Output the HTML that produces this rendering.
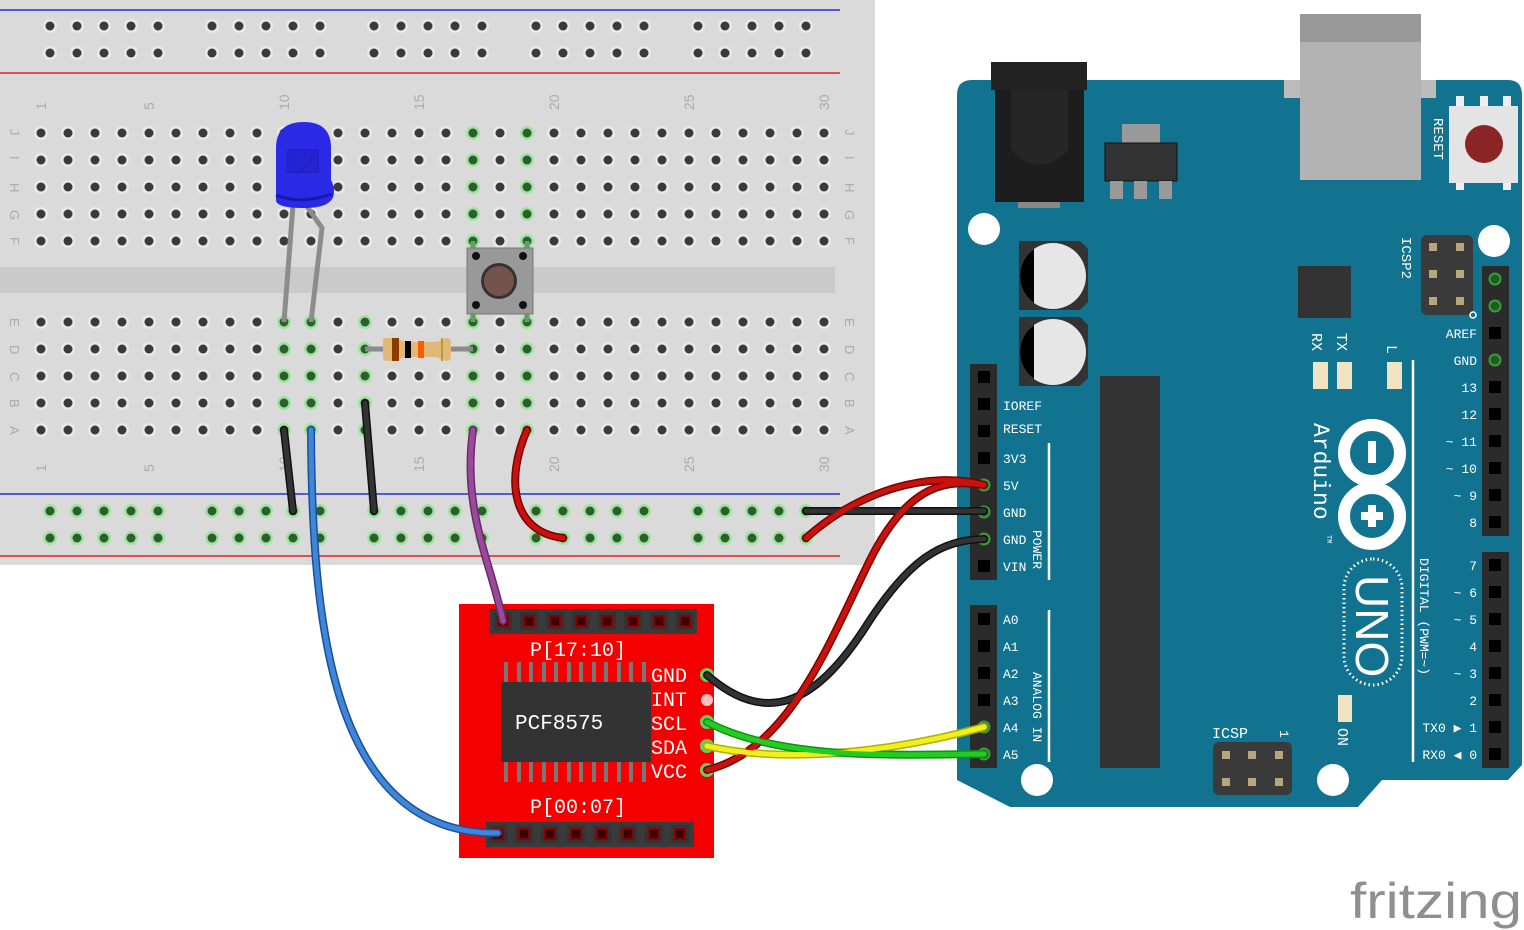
<!DOCTYPE html>
<html><head><meta charset="utf-8"><style>
html,body{margin:0;padding:0;background:#fff;}
svg{display:block;}
.m{font-family:"Liberation Mono","DejaVu Sans Mono",monospace;fill:#fff;}
.bl{font-family:"Liberation Sans",sans-serif;fill:#aaa;font-size:14px;}
</style></head><body>
<svg width="1524" height="930" viewBox="0 0 1524 930" xmlns="http://www.w3.org/2000/svg">
<defs>
<pattern id="hole" x="27.5" y="119.5" width="27" height="27" patternUnits="userSpaceOnUse">
<circle cx="13.5" cy="13.5" r="7" fill="#e9e9e9"/><circle cx="13.5" cy="13.5" r="4.5" fill="#3a3a3a"/></pattern>
<pattern id="rail" x="36.5" y="12.5" width="162" height="27" patternUnits="userSpaceOnUse">
<g fill="#e9e9e9"><circle cx="13.5" cy="13.5" r="7"/><circle cx="40.5" cy="13.5" r="7"/><circle cx="67.5" cy="13.5" r="7"/><circle cx="94.5" cy="13.5" r="7"/><circle cx="121.5" cy="13.5" r="7"/></g>
<g fill="#3a3a3a"><circle cx="13.5" cy="13.5" r="4.5"/><circle cx="40.5" cy="13.5" r="4.5"/><circle cx="67.5" cy="13.5" r="4.5"/><circle cx="94.5" cy="13.5" r="4.5"/><circle cx="121.5" cy="13.5" r="4.5"/></g></pattern>
<pattern id="railg" x="36.5" y="497.5" width="162" height="27" patternUnits="userSpaceOnUse">
<g fill="#9ee49e"><circle cx="13.5" cy="13.5" r="7"/><circle cx="40.5" cy="13.5" r="7"/><circle cx="67.5" cy="13.5" r="7"/><circle cx="94.5" cy="13.5" r="7"/><circle cx="121.5" cy="13.5" r="7"/></g>
<g fill="#2e5e2e"><circle cx="13.5" cy="13.5" r="4.5"/><circle cx="40.5" cy="13.5" r="4.5"/><circle cx="67.5" cy="13.5" r="4.5"/><circle cx="94.5" cy="13.5" r="4.5"/><circle cx="121.5" cy="13.5" r="4.5"/></g></pattern>
<g id="gh"><circle r="7" fill="#9ee49e"/><circle r="4.5" fill="#2e5e2e"/></g>
<g id="pin"><rect x="-9" y="-9" width="18" height="18" fill="#2b2b2b"/><rect x="-6" y="-6" width="12" height="12" fill="#000"/></g>
<g id="gpin"><rect x="-9" y="-9" width="18" height="18" fill="#2b2b2b"/><circle r="6.5" fill="#3c9c3c"/><circle r="4.5" fill="#1d5d1d"/></g>
<g id="rpin"><rect x="-9" y="-9" width="18" height="18" fill="#333"/><rect x="-6" y="-6" width="12" height="12" fill="#8a0000"/><rect x="-4" y="-4" width="8" height="8" fill="#3a0000"/></g>
<g id="pad"><rect x="-4" y="-4" width="8" height="8" fill="#b5a77a"/></g>
</defs>

<rect x="0" y="0" width="875" height="565" fill="#dadada"/>
<rect x="0" y="267" width="835" height="26" fill="#cacaca"/>
<line x1="0" y1="10" x2="840" y2="10" stroke="#2233cc" stroke-width="1.5"/>
<line x1="0" y1="73" x2="840" y2="73" stroke="#dd2222" stroke-width="1.5"/>
<line x1="0" y1="494" x2="840" y2="494" stroke="#2233cc" stroke-width="1.5"/>
<line x1="0" y1="556" x2="840" y2="556" stroke="#dd2222" stroke-width="1.5"/>
<rect x="36.5" y="12.5" width="810" height="54" fill="url(#rail)"/>
<rect x="36.5" y="497.5" width="810" height="54" fill="url(#railg)"/>
<rect x="27.5" y="119.5" width="810" height="135" fill="url(#hole)"/>
<rect x="27.5" y="308.5" width="810" height="135" fill="url(#hole)"/>
<use href="#gh" x="284" y="322"/><use href="#gh" x="284" y="349"/><use href="#gh" x="284" y="376"/><use href="#gh" x="284" y="403"/><use href="#gh" x="284" y="430"/>
<use href="#gh" x="311" y="322"/><use href="#gh" x="311" y="349"/><use href="#gh" x="311" y="376"/><use href="#gh" x="311" y="403"/><use href="#gh" x="311" y="430"/>
<use href="#gh" x="365" y="322"/><use href="#gh" x="365" y="349"/><use href="#gh" x="365" y="376"/><use href="#gh" x="365" y="403"/><use href="#gh" x="365" y="430"/>
<use href="#gh" x="473" y="133"/><use href="#gh" x="473" y="160"/><use href="#gh" x="473" y="187"/><use href="#gh" x="473" y="214"/><use href="#gh" x="473" y="241"/>
<use href="#gh" x="473" y="322"/><use href="#gh" x="473" y="349"/><use href="#gh" x="473" y="376"/><use href="#gh" x="473" y="403"/><use href="#gh" x="473" y="430"/>
<use href="#gh" x="527" y="133"/><use href="#gh" x="527" y="160"/><use href="#gh" x="527" y="187"/><use href="#gh" x="527" y="214"/><use href="#gh" x="527" y="241"/>
<use href="#gh" x="527" y="322"/><use href="#gh" x="527" y="349"/><use href="#gh" x="527" y="376"/><use href="#gh" x="527" y="403"/><use href="#gh" x="527" y="430"/>
<g class="bl">
<text transform="translate(46,110) rotate(-90)">1</text><text transform="translate(154,110) rotate(-90)">5</text><text transform="translate(289,110) rotate(-90)">10</text><text transform="translate(424,110) rotate(-90)">15</text><text transform="translate(559,110) rotate(-90)">20</text><text transform="translate(694,110) rotate(-90)">25</text><text transform="translate(829,110) rotate(-90)">30</text>
<text transform="translate(46,472) rotate(-90)">1</text><text transform="translate(154,472) rotate(-90)">5</text><text transform="translate(289,472) rotate(-90)">10</text><text transform="translate(424,472) rotate(-90)">15</text><text transform="translate(559,472) rotate(-90)">20</text><text transform="translate(694,472) rotate(-90)">25</text><text transform="translate(829,472) rotate(-90)">30</text>
<g font-size="13">
<text transform="translate(10,129) rotate(90)">J</text><text transform="translate(10,156) rotate(90)">I</text><text transform="translate(10,183) rotate(90)">H</text><text transform="translate(10,210) rotate(90)">G</text><text transform="translate(10,237) rotate(90)">F</text>
<text transform="translate(10,318) rotate(90)">E</text><text transform="translate(10,345) rotate(90)">D</text><text transform="translate(10,372) rotate(90)">C</text><text transform="translate(10,399) rotate(90)">B</text><text transform="translate(10,426) rotate(90)">A</text>
<text transform="translate(845,129) rotate(90)">J</text><text transform="translate(845,156) rotate(90)">I</text><text transform="translate(845,183) rotate(90)">H</text><text transform="translate(845,210) rotate(90)">G</text><text transform="translate(845,237) rotate(90)">F</text>
<text transform="translate(845,318) rotate(90)">E</text><text transform="translate(845,345) rotate(90)">D</text><text transform="translate(845,372) rotate(90)">C</text><text transform="translate(845,399) rotate(90)">B</text><text transform="translate(845,426) rotate(90)">A</text>
</g></g>

<path d="M293,205 L284,322" stroke="#8c8c8c" stroke-width="5" fill="none"/>
<path d="M306,205 L322,228 L311,322" stroke="#8c8c8c" stroke-width="5" fill="none"/>
<path d="M276,200 L276,148 Q276,122 304,122 Q331,122 331,148 L331,180 Q334,185 334,192 Q334,208 304,208 Q276,208 276,200Z" fill="#2a2ae6"/>
<path d="M276,195 Q300,205 332,194" stroke="#1818b0" stroke-width="3" fill="none"/>
<path d="M288,150 L318,150 L318,172 L288,172Z M300,172 L318,150" stroke="#1e1ec0" stroke-width="2" fill="#2222cc" opacity="0.7"/>
<path d="M473,241 L473,322 M527,241 L527,322" stroke="#6a9a6a" stroke-width="5"/>
<rect x="467" y="248" width="66" height="66" fill="#999" stroke="#777"/>
<circle cx="476" cy="256" r="4" fill="#111"/><circle cx="523" cy="256" r="4" fill="#111"/><circle cx="476" cy="305" r="4" fill="#111"/><circle cx="523" cy="305" r="4" fill="#111"/>
<circle cx="499" cy="281" r="18" fill="#333"/><circle cx="499" cy="281" r="15" fill="#74544a"/>
<line x1="365" y1="349" x2="473" y2="349" stroke="#8c8c8c" stroke-width="5"/>
<path d="M385,338 Q383,338 383,342 L383,357 Q383,361 387,361 L396,361 Q402,357 412,357 L432,357 Q440,357 446,361 Q451,361 451,357 L451,342 Q451,338 446,338 Q440,342 432,342 L412,342 Q402,342 396,338Z" fill="#e0b878"/>
<rect x="392" y="338" width="7" height="23" fill="#8b3a00"/><rect x="405" y="341" width="6" height="17" fill="#000"/><rect x="418" y="341" width="6" height="17" fill="#ff5a00"/><rect x="441" y="338" width="2" height="23" fill="#b0a030"/>

<path d="M957,95 Q957,80 972,80 L1508,80 Q1522,80 1522,95 L1522,765 L1508,780 L1382,780 L1358,807 L1010,807 L957,780Z" fill="#127390"/>
<rect x="1018" y="198" width="42" height="10" fill="#888"/>
<rect x="995" y="82" width="89" height="120" fill="#1d1d1d"/>
<rect x="991" y="62" width="96" height="28" fill="#222"/>
<path d="M1011,90 L1011,150 Q1040,180 1068,150 L1068,90" fill="#262626"/>
<rect x="1122" y="124" width="38" height="20" fill="#999"/>
<rect x="1105" y="143" width="72" height="38" fill="#333" stroke="#111"/>
<rect x="1110" y="181" width="13" height="18" fill="#999"/><rect x="1134" y="181" width="13" height="18" fill="#999"/><rect x="1159" y="181" width="13" height="18" fill="#999"/>
<rect x="1284" y="80" width="152" height="18" fill="#bbb"/>
<rect x="1300" y="14" width="121" height="166" fill="#b3b3b3"/>
<rect x="1300" y="14" width="121" height="28" fill="#999"/>
<rect x="1456" y="96" width="8" height="14" fill="#eee"/><rect x="1480" y="96" width="8" height="14" fill="#eee"/><rect x="1503" y="96" width="8" height="14" fill="#eee"/>
<rect x="1456" y="176" width="8" height="14" fill="#eee"/><rect x="1503" y="176" width="8" height="14" fill="#eee"/>
<rect x="1449" y="106" width="69" height="77" fill="#e4e4e4"/>
<circle cx="1484" cy="144" r="19" fill="#8b2424"/>
<text class="m" font-size="14" transform="translate(1434,118) rotate(90)">RESET</text>
<circle cx="984" cy="229" r="16" fill="#fff"/><circle cx="1494" cy="241" r="16" fill="#fff"/><circle cx="1037" cy="780" r="16" fill="#fff"/><circle cx="1333" cy="780" r="16" fill="#fff"/>
<path d="M1019,241 L1080,241 L1088,249 L1088,302 L1080,310 L1019,310Z" fill="#333"/>
<circle cx="1053" cy="276" r="33" fill="#e6e6e6"/><path d="M1034,249 A33,33 0 0 0 1034,303Z" fill="#000"/>
<path d="M1019,317 L1080,317 L1088,325 L1088,378 L1080,386 L1019,386Z" fill="#333"/>
<circle cx="1053" cy="352" r="33" fill="#e6e6e6"/><path d="M1034,325 A33,33 0 0 0 1034,379Z" fill="#000"/>
<rect x="1298" y="266" width="53" height="52" fill="#333"/>
<rect x="1100" y="376" width="60" height="392" fill="#333"/>
<rect x="1421" y="235" width="52" height="80" rx="6" fill="#3a3a3a"/>
<use href="#pad" x="1433" y="247"/><use href="#pad" x="1460" y="247"/><use href="#pad" x="1433" y="274"/><use href="#pad" x="1460" y="274"/><use href="#pad" x="1433" y="301"/><use href="#pad" x="1460" y="301"/>
<circle cx="1473" cy="315" r="3" fill="none" stroke="#fff" stroke-width="1.5"/>
<text class="m" font-size="14" transform="translate(1402,237) rotate(90)">ICSP2</text>
<rect x="1313" y="362" width="15" height="27" fill="#efe3c0"/><rect x="1337" y="362" width="15" height="27" fill="#efe3c0"/><rect x="1387" y="362" width="15" height="27" fill="#efe3c0"/>
<rect x="1338" y="695" width="14" height="27" fill="#efe3c0"/>
<text class="m" font-size="15" transform="translate(1312,333) rotate(90)">RX</text>
<text class="m" font-size="15" transform="translate(1337,333) rotate(90)">TX</text>
<text class="m" font-size="15" transform="translate(1387,345) rotate(90)">L</text>
<text class="m" font-size="15" transform="translate(1338,728) rotate(90)">ON</text>
<g stroke="#fff" stroke-width="2.5"><line x1="1049" y1="443" x2="1049" y2="580"/><line x1="1049" y1="610" x2="1049" y2="762"/><line x1="1413" y1="360" x2="1413" y2="762"/></g>
<rect x="970" y="364" width="27" height="216" fill="#2b2b2b"/><rect x="970" y="605" width="27" height="163" fill="#2b2b2b"/>
<use href="#pin" x="984" y="377"/><use href="#pin" x="984" y="404"/><use href="#pin" x="984" y="431"/><use href="#pin" x="984" y="458"/><use href="#gpin" x="984" y="485"/><use href="#gpin" x="984" y="512"/><use href="#gpin" x="984" y="539"/><use href="#pin" x="984" y="566"/>
<use href="#pin" x="984" y="619"/><use href="#pin" x="984" y="646"/><use href="#pin" x="984" y="673"/><use href="#pin" x="984" y="700"/><use href="#gpin" x="984" y="727"/><use href="#gpin" x="984" y="754"/>
<g class="m" font-size="13">
<text x="1003" y="410">IOREF</text><text x="1003" y="433">RESET</text><text x="1003" y="463">3V3</text><text x="1003" y="490">5V</text><text x="1003" y="517">GND</text><text x="1003" y="544">GND</text><text x="1003" y="571">VIN</text>
<text x="1003" y="624">A0</text><text x="1003" y="651">A1</text><text x="1003" y="678">A2</text><text x="1003" y="705">A3</text><text x="1003" y="732">A4</text><text x="1003" y="759">A5</text>
<text transform="translate(1033,530) rotate(90)">POWER</text>
<text transform="translate(1033,672) rotate(90)">ANALOG IN</text>
</g>
<rect x="1482" y="266" width="27" height="270" fill="#2b2b2b"/><rect x="1482" y="552" width="27" height="216" fill="#2b2b2b"/>
<use href="#gpin" x="1495" y="279"/><use href="#gpin" x="1495" y="306"/><use href="#pin" x="1495" y="333"/><use href="#gpin" x="1495" y="360"/><use href="#pin" x="1495" y="387"/><use href="#pin" x="1495" y="414"/><use href="#pin" x="1495" y="441"/><use href="#pin" x="1495" y="468"/><use href="#pin" x="1495" y="495"/><use href="#pin" x="1495" y="522"/>
<use href="#pin" x="1495" y="565"/><use href="#pin" x="1495" y="592"/><use href="#pin" x="1495" y="619"/><use href="#pin" x="1495" y="646"/><use href="#pin" x="1495" y="673"/><use href="#pin" x="1495" y="700"/><use href="#pin" x="1495" y="727"/><use href="#pin" x="1495" y="754"/>
<g class="m" font-size="13" text-anchor="end">
<text x="1477" y="338">AREF</text><text x="1477" y="365">GND</text><text x="1477" y="392">13</text><text x="1477" y="419">12</text><text x="1477" y="446">~ 11</text><text x="1477" y="473">~ 10</text><text x="1477" y="500">~ 9</text><text x="1477" y="527">8</text>
<text x="1477" y="570">7</text><text x="1477" y="597">~ 6</text><text x="1477" y="624">~ 5</text><text x="1477" y="651">4</text><text x="1477" y="678">~ 3</text><text x="1477" y="705">2</text><text x="1477" y="732">TX0 ▶ 1</text><text x="1477" y="759">RX0 ◀ 0</text>
</g>
<text class="m" font-size="13" transform="translate(1420,558) rotate(90)">DIGITAL (PWM=~)</text>
<g stroke="#fff" stroke-width="12" fill="none"><circle cx="1372" cy="453" r="28"/><circle cx="1372" cy="516" r="28"/></g>
<rect x="1368" y="441" width="8" height="22" fill="#fff"/>
<rect x="1361" y="512" width="22" height="8" fill="#fff"/><rect x="1368" y="505" width="8" height="22" fill="#fff"/>
<text class="m" font-size="23" transform="translate(1314,423) rotate(90)">Arduino</text>
<text class="m" font-size="7" transform="translate(1327,535) rotate(90)">TM</text>
<rect x="1344" y="559" width="58" height="126" rx="29" fill="none" stroke="#fff" stroke-width="3" stroke-dasharray="1.5 3"/>
<text font-family="Liberation Sans,sans-serif" font-size="46" fill="#fff" transform="translate(1356,575) rotate(90)">UNO</text>
<rect x="1213" y="742" width="79" height="53" rx="6" fill="#3a3a3a"/>
<use href="#pad" x="1226" y="755"/><use href="#pad" x="1252" y="755"/><use href="#pad" x="1279" y="755"/><use href="#pad" x="1226" y="782"/><use href="#pad" x="1252" y="782"/><use href="#pad" x="1279" y="782"/>
<text class="m" font-size="15" x="1212" y="738">ICSP</text>
<text class="m" font-size="13" transform="translate(1280,730) rotate(90)">1</text>

<rect x="459" y="604" width="255" height="254" fill="#f40000"/>
<rect x="490" y="609" width="207" height="25" fill="#3a3a3a"/>
<use href="#rpin" x="503" y="621"/><use href="#rpin" x="529" y="621"/><use href="#rpin" x="555" y="621"/><use href="#rpin" x="581" y="621"/><use href="#rpin" x="607" y="621"/><use href="#rpin" x="633" y="621"/><use href="#rpin" x="659" y="621"/><use href="#rpin" x="685" y="621"/>
<rect x="486" y="822" width="208" height="25" fill="#3a3a3a"/>
<use href="#rpin" x="498" y="834"/><use href="#rpin" x="524" y="834"/><use href="#rpin" x="550" y="834"/><use href="#rpin" x="576" y="834"/><use href="#rpin" x="602" y="834"/><use href="#rpin" x="628" y="834"/><use href="#rpin" x="654" y="834"/><use href="#rpin" x="680" y="834"/>
<g fill="#777">
<rect x="504" y="662" width="4" height="120"/><rect x="517" y="662" width="4" height="120"/><rect x="529" y="662" width="4" height="120"/><rect x="542" y="662" width="4" height="120"/><rect x="554" y="662" width="4" height="120"/><rect x="567" y="662" width="4" height="120"/><rect x="579" y="662" width="4" height="120"/><rect x="592" y="662" width="4" height="120"/><rect x="604" y="662" width="4" height="120"/><rect x="617" y="662" width="4" height="120"/><rect x="629" y="662" width="4" height="120"/><rect x="642" y="662" width="4" height="120"/>
</g>
<rect x="501" y="682" width="150" height="80" fill="#333"/>
<text class="m" font-size="21" x="515" y="729">PCF8575</text>
<g class="m" font-size="20">
<text x="530" y="656">P[17:10]</text><text x="530" y="813">P[00:07]</text>
<text x="651" y="682">GND</text><text x="651" y="706">INT</text><text x="651" y="730">SCL</text><text x="651" y="754">SDA</text><text x="651" y="778">VCC</text>
</g>
<circle cx="707" cy="700" r="6" fill="#ffc0c0"/>
<g><circle cx="707" cy="675" r="7" fill="#6c6"/><circle cx="707" cy="722" r="7" fill="#6c6"/><circle cx="707" cy="746" r="7" fill="#6c6"/><circle cx="707" cy="770" r="7" fill="#6c6"/></g>

<g fill="none" stroke-linecap="round">
<g stroke-width="8">
<path d="M284,430 L293,511" stroke="#111"/>
<path d="M365,403 L374,511" stroke="#111"/>
<path d="M311,430 C312,620 330,835 498,833" stroke="#1a4f9a"/>
<path d="M473,430 C462,510 490,560 503,621" stroke="#6a2a6a"/>
<path d="M527,430 C505,480 512,532 563,538" stroke="#7a0000"/>
<path d="M806,511 L984,511" stroke="#111"/>
<path d="M806,538 C860,490 930,470 984,485" stroke="#7a0000"/>
<path d="M707,675 C770,730 820,700 870,620 C910,560 940,540 984,539" stroke="#111"/>
<path d="M707,770 C790,750 830,640 870,560 C910,480 950,480 984,485" stroke="#7a0000"/>
<path d="M707,746 C790,765 900,750 984,727" stroke="#b0b000"/>
<path d="M707,722 C780,760 890,755 984,754" stroke="#109010"/>
</g>
<g stroke-width="5">
<path d="M284,430 L293,511" stroke="#333"/>
<path d="M365,403 L374,511" stroke="#333"/>
<path d="M311,430 C312,620 330,835 498,833" stroke="#3f86d8"/>
<path d="M473,430 C462,510 490,560 503,621" stroke="#9b4a9b"/>
<path d="M527,430 C505,480 512,532 563,538" stroke="#c8120e"/>
<path d="M806,511 L984,511" stroke="#333"/>
<path d="M806,538 C860,490 930,470 984,485" stroke="#c8120e"/>
<path d="M707,675 C770,730 820,700 870,620 C910,560 940,540 984,539" stroke="#333"/>
<path d="M707,770 C790,750 830,640 870,560 C910,480 950,480 984,485" stroke="#c8120e"/>
<path d="M707,746 C790,765 900,750 984,727" stroke="#f2ef20"/>
<path d="M707,722 C780,760 890,755 984,754" stroke="#22cc22"/>
</g>
</g>
<text x="1350" y="918" font-family="Liberation Sans,sans-serif" font-size="50" fill="#8f8f8f" textLength="172" lengthAdjust="spacingAndGlyphs">fritzing</text>
</svg>
</body></html>
